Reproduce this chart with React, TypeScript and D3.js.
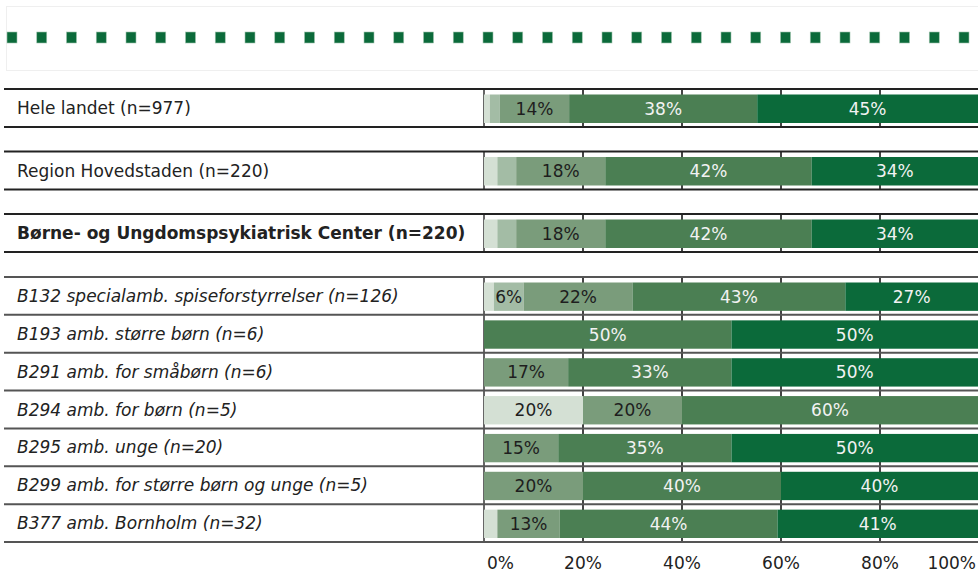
import React from "react";
import * as d3 from "d3";

const categories = [
  "Hele landet (n=977)",
  "Region Hovedstaden (n=220)",
  "Børne- og Ungdomspsykiatrisk Center (n=220)",
  "B132 specialamb. spiseforstyrrelser (n=126)",
  "B193 amb. større børn (n=6)",
  "B291 amb. for småbørn (n=6)",
  "B294 amb. for børn (n=5)",
  "B295 amb. unge (n=20)",
  "B299 amb. for større børn og unge (n=5)",
  "B377 amb. Bornholm (n=32)",
];
const headlineCount = 3;
const boldRows = [2];

const s1 = [1.2, 2.7, 2.7, 2, 0, 0, 20, 0, 0, 2.7];
const s2 = [2, 3.8, 3.8, 6, 0, 0, 0, 0, 0, 0];
const s3 = [14, 18, 18, 22, 0, 17, 20, 15, 20, 12.6];
const s4 = [38, 41.7, 41.7, 43, 50, 33, 60, 35, 40, 44];
const s5 = [45, 34, 34, 27, 50, 50, 0, 50, 40, 40.7];
const seriesList = [s1, s2, s3, s4, s5];
const seriesColors = ["#d4e0d4", "#a3bca5", "#7a9c7b", "#4b7f53", "#0b6a3a"];
const labelColors = ["#1e1e1e", "#1e1e1e", "#1e1e1e", "#f2f2f2", "#f2f2f2"];
const tickValues = [0, 20, 40, 60, 80, 100];

const W = 978;
const H = 574;
const FONT = "DejaVu Sans, Verdana, sans-serif";

export default function App() {
  const x = d3.scaleLinear().domain([0, 100]).range([484, 979]);
  const headTops = [89, 151.5, 214];
  const detailScale = d3
    .scaleBand<number>()
    .domain(d3.range(categories.length - headlineCount))
    .range([277, 542])
    .paddingInner(0)
    .paddingOuter(0);
  const rowTop = (i: number) =>
    i < headlineCount ? headTops[i] : (detailScale(i - headlineCount) as number);
  const rowH = (i: number) => (i < headlineCount ? 38 : detailScale.bandwidth());

  const stackData = categories.map((c, i) => {
    const o: any = { cat: c };
    seriesList.forEach((s, k) => (o["s" + k] = s[i]));
    return o;
  });
  const stack = d3.stack<any>().keys(seriesList.map((_, k) => "s" + k));
  const stacked = stack(stackData);

  const squares = d3.range(33);

  return (
    <svg
      width={W}
      height={H}
      style={{ position: "absolute", left: 0, top: 0, background: "#fff" }}
      fontFamily={FONT}
    >
      {/* header box */}
      <rect x={6.5} y={6.5} width={975} height={64} fill="#fff" stroke="#efefef" strokeWidth={1} />
      {squares.map((i) => (
        <rect
          key={i}
          x={7 + i * 29.75}
          y={32}
          width={10}
          height={11}
          fill="#0b6a3a"
          stroke="#9fc3ad"
          strokeWidth={0.6}
        />
      ))}

      {/* rows */}
      {categories.map((c, i) => {
        const top = rowTop(i);
        const h = rowH(i);
        const headline = i < headlineCount;
        return (
          <g key={c}>
            {tickValues.slice(1, 5).map((t) => (
              <line
                key={t}
                x1={x(t)}
                x2={x(t)}
                y1={top}
                y2={top + h}
                stroke="#444"
                strokeWidth={2}
              />
            ))}
            <line x1={484} x2={484} y1={top} y2={top + h} stroke="#333" strokeWidth={1.5} />
            <text
              x={17}
              y={top + h / 2 + 6}
              fontSize={17}
              fill="#222"
              fontWeight={boldRows.includes(i) ? "bold" : "normal"}
              fontStyle={headline ? "normal" : "italic"}
            >
              {c}
            </text>
          </g>
        );
      })}

      {/* bars */}
      {stacked.map((layer, k) => (
        <g key={k}>
          {layer.map((d, i) => {
            const v = d[1] - d[0];
            if (v <= 0) return null;
            const top = rowTop(i) + 5.5;
            const bh = rowH(i) - 9.5;
            const x0 = x(d[0]);
            const x1 = x(d[1]);
            return (
              <g key={i}>
                <rect x={x0} y={top} width={x1 - x0} height={bh} fill={seriesColors[k]} />
                {v >= 5 && (
                  <text
                    x={(x0 + Math.min(x1, W)) / 2}
                    y={top + bh / 2 + 6}
                    textAnchor="middle"
                    fontSize={17}
                    fill={labelColors[k]}
                  >
                    {Math.round(v) + "%"}
                  </text>
                )}
              </g>
            );
          })}
        </g>
      ))}

      {/* horizontal row lines */}
      {d3.range(headlineCount).map((i) => (
        <g key={"hl" + i}>
          <line x1={4} x2={W} y1={rowTop(i)} y2={rowTop(i)} stroke="#222" strokeWidth={2} />
          <line x1={4} x2={W} y1={rowTop(i) + rowH(i)} y2={rowTop(i) + rowH(i)} stroke="#222" strokeWidth={2} />
        </g>
      ))}
      {d3.range(categories.length - headlineCount + 1).map((j) => {
        const y = j < categories.length - headlineCount ? (detailScale(j) as number) : 542;
        return <line key={"dl" + j} x1={4} x2={W} y1={y} y2={y} stroke="#555" strokeWidth={2} />;
      })}

      {/* x tick labels */}
      {tickValues.map((t, idx) => (
        <text
          key={t}
          x={idx === 0 ? x(t) + 3 : idx === tickValues.length - 1 ? W - 2 : x(t)}
          y={569}
          fontSize={17}
          fill="#222"
          textAnchor={idx === 0 ? "start" : idx === tickValues.length - 1 ? "end" : "middle"}
        >
          {t + "%"}
        </text>
      ))}
    </svg>
  );
}
